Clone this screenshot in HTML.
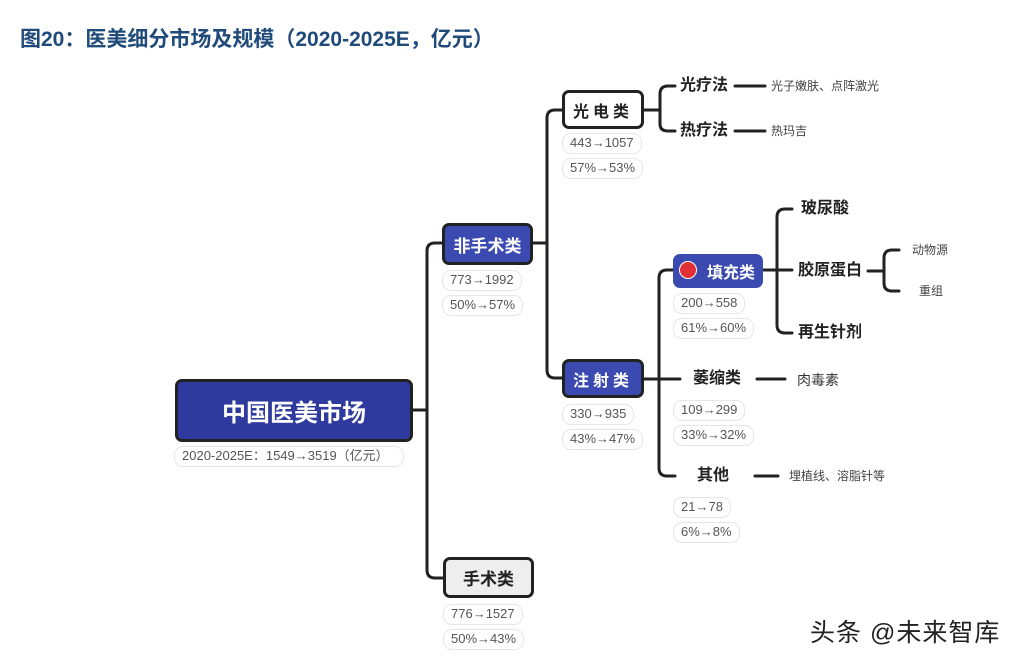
<!DOCTYPE html>
<html><head><meta charset="utf-8"><style>
body{margin:0;width:1016px;height:662px;background:#fff;position:relative;overflow:hidden;font-family:"Liberation Sans","Noto Sans CJK SC",sans-serif}
.a{position:absolute;white-space:nowrap}
.box{position:absolute;box-sizing:border-box;border:3px solid #222;border-radius:7px;display:flex;align-items:center;justify-content:center;font-weight:bold}
.blue{background:#3B4AB0;color:#fff}
.pill{position:absolute;box-sizing:border-box;border:1.5px solid #e6e6e6;border-radius:9px;font-size:13px;color:#555;height:21px;line-height:18px;padding:0 7px;white-space:nowrap}
.t{position:absolute;font-weight:bold;font-size:16px;color:#222;line-height:20px;white-space:nowrap}
.s{position:absolute;font-size:12px;color:#444;line-height:16px;white-space:nowrap}
</style></head><body>
<div class="a" style="left:20px;top:23px;font-size:21px;font-weight:bold;color:#1F4A7A">图20：医美细分市场及规模（2020-2025E，亿元）</div>
<svg class="a" style="left:0;top:0" width="1016" height="662" fill="none" stroke="#222" stroke-width="3" stroke-linecap="round">
<path d="M412 410H427"/>
<path d="M442 243H435Q427 243 427 251V570Q427 578 435 578H443"/>
<path d="M532 243H547"/>
<path d="M562 110H555Q547 110 547 118V370Q547 378 555 378H562"/>
<path d="M643 110H660"/>
<path d="M675 86H668Q660 86 660 94V124Q660 131 668 131H675"/>
<path d="M735 86H765M735 131H765"/>
<path d="M643 379H680"/>
<path d="M673 270H667Q659 270 659 278V468Q659 476 667 476H675"/>
<path d="M757 379H785M755 476H778"/>
<path d="M762 270H792"/>
<path d="M792 209H785Q777 209 777 217V325Q777 333 785 333H792"/>
<path d="M868 271H884"/>
<path d="M899 250H892Q884 250 884 258V283Q884 291 892 291H899"/>
</svg>
<div class="box" style="left:175px;top:379px;width:238px;height:63px;background:#2E3A9E;color:#fff;font-size:24px">中国医美市场</div>
<div class="pill" style="left:174px;top:446px;width:230px">2020-2025E：1549→3519（亿元）</div>
<div class="box blue" style="left:442px;top:223px;width:91px;height:42px;font-size:17px">非手术类</div>
<div class="pill" style="left:442px;top:270px">773→1992</div>
<div class="pill" style="left:442px;top:295px">50%→57%</div>
<div class="box" style="left:443px;top:557px;width:91px;height:41px;background:#eee;color:#222;font-size:17px">手术类</div>
<div class="pill" style="left:443px;top:604px">776→1527</div>
<div class="pill" style="left:443px;top:629px">50%→43%</div>
<div class="box" style="left:562px;top:90px;width:82px;height:39px;background:#fff;color:#222;font-size:16px;letter-spacing:4px">光电类</div>
<div class="pill" style="left:562px;top:133px">443→1057</div>
<div class="pill" style="left:562px;top:158px">57%→53%</div>
<div class="t" style="left:680px;top:76px">光疗法</div>
<div class="s" style="left:771px;top:78px">光子嫩肤、点阵激光</div>
<div class="t" style="left:680px;top:121px">热疗法</div>
<div class="s" style="left:771px;top:123px">热玛吉</div>
<div class="box blue" style="left:562px;top:359px;width:82px;height:39px;font-size:16px;letter-spacing:4px">注射类</div>
<div class="pill" style="left:562px;top:404px">330→935</div>
<div class="pill" style="left:562px;top:429px">43%→47%</div>
<div class="box blue" style="left:673px;top:254px;width:90px;height:34px;border:none;font-size:16px;justify-content:flex-start;padding-left:34px">填充类</div>
<div class="a" style="left:679px;top:261px;width:16px;height:16px;border-radius:50%;background:#E03035;border:1px solid #fff"></div>
<div class="pill" style="left:673px;top:293px">200→558</div>
<div class="pill" style="left:673px;top:318px">61%→60%</div>
<div class="t" style="left:801px;top:199px">玻尿酸</div>
<div class="t" style="left:798px;top:261px">胶原蛋白</div>
<div class="t" style="left:798px;top:323px">再生针剂</div>
<div class="s" style="left:912px;top:242px">动物源</div>
<div class="s" style="left:919px;top:283px">重组</div>
<div class="t" style="left:693px;top:369px">萎缩类</div>
<div class="a" style="left:797px;top:370px;font-size:14px;color:#333">肉毒素</div>
<div class="pill" style="left:673px;top:400px">109→299</div>
<div class="pill" style="left:673px;top:425px">33%→32%</div>
<div class="t" style="left:697px;top:466px">其他</div>
<div class="s" style="left:789px;top:468px">埋植线、溶脂针等</div>
<div class="pill" style="left:673px;top:497px">21→78</div>
<div class="pill" style="left:673px;top:522px">6%→8%</div>
<div class="a" style="left:810px;top:613px;font-size:25px;color:#222;letter-spacing:1px">头条 @未来智库</div>
</body></html>
